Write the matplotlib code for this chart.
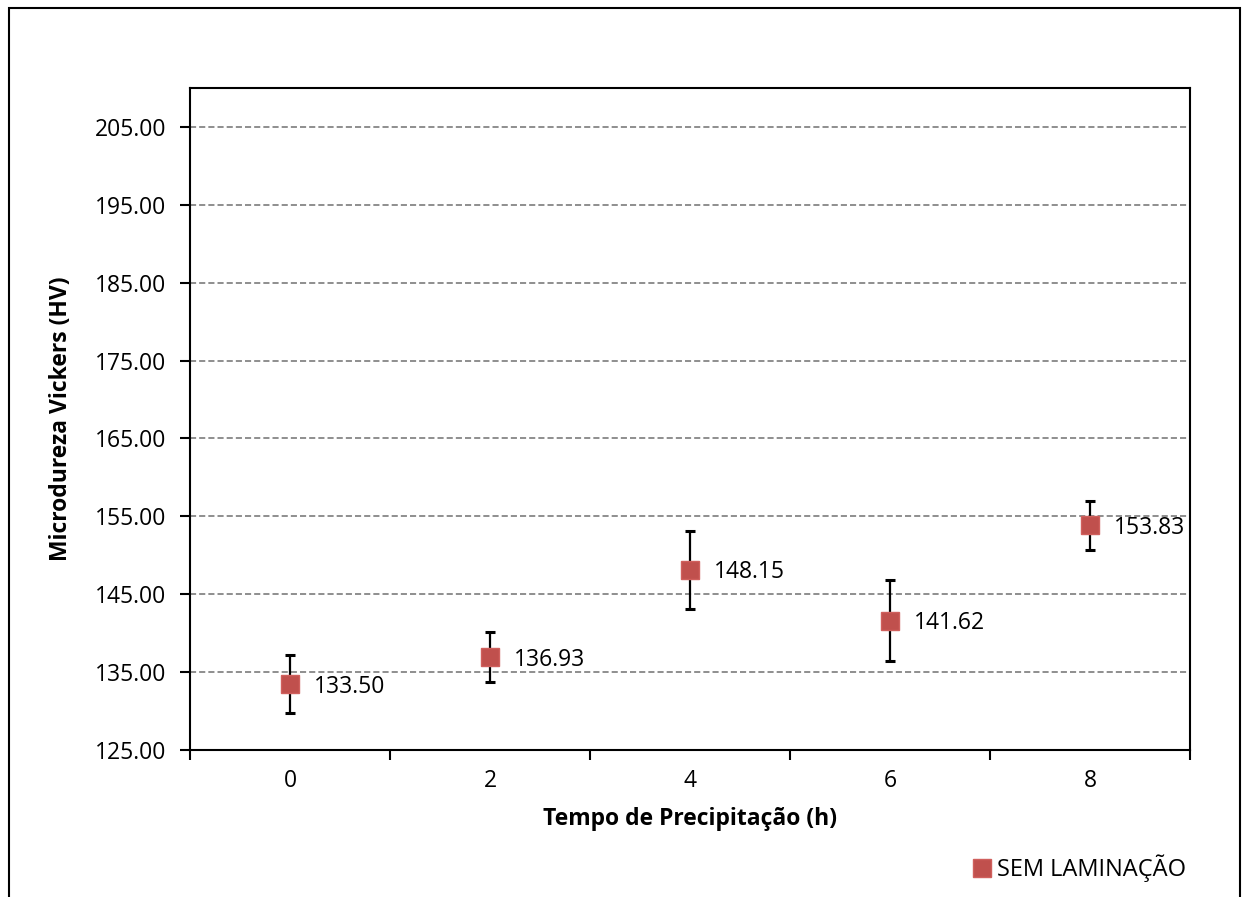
import matplotlib.pyplot as plt
from matplotlib.patches import Rectangle
from matplotlib.lines import Line2D

plt.rcParams['font.family'] = ['Open Sans', 'DejaVu Sans']

tempos = ['0', '2', '4', '6', '8']
dureza = [133.50, 136.93, 148.15, 141.62, 153.83]
erro = [3.7, 3.2, 5.0, 5.2, 3.1]
yticks = [125, 135, 145, 155, 165, 175, 185, 195, 205]

fig = plt.figure(figsize=(12.47, 8.97), dpi=100)
ax = fig.add_axes([0.1524, 0.1639, 0.8019, 0.738])

# moldura externa
fig.patches.append(Rectangle((9 / 1247, -0.05), 1231 / 1247, 1 - 8 / 897 + 0.05,
                             transform=fig.transFigure, fill=False,
                             edgecolor='black', linewidth=1.5))

x = list(range(len(tempos)))
ax.errorbar(x, dureza, yerr=erro, fmt='none', ecolor='black',
            elinewidth=1.6, capsize=3.5, capthick=2.2, zorder=3)
ax.plot(x, dureza, linestyle='none', marker='s', markersize=13,
        color='#C0504D', markeredgecolor='#D0605D', zorder=4)

for xi, v in zip(x, dureza):
    ax.annotate(f'{v:.2f}', (xi, v), xytext=(17, -2), textcoords='offset points',
                va='center', ha='left', fontsize=16.5)

ax.set_xlim(-0.5, 4.5)
ax.set_ylim(125, 210)
ax.set_yticks(yticks)
ax.set_yticklabels([f'{t:.2f}' for t in yticks], fontsize=16.5)
ax.set_xticks(x)
ax.set_xticklabels(tempos, fontsize=16.5)
ax.set_xticks([i - 0.5 for i in range(len(tempos) + 1)], minor=True)
ax.tick_params(axis='x', which='major', length=0, pad=14)
ax.tick_params(axis='x', which='minor', length=7, width=1.5, direction='out')
ax.tick_params(axis='y', length=7, width=1.5, direction='out', pad=10)

for t in yticks[1:]:
    ax.axhline(t, color='#707070', linestyle=(0, (4, 2)), linewidth=1.1, zorder=1)

for s in ax.spines.values():
    s.set_linewidth(1.5)

ax.set_xlabel('Tempo de Precipitação (h)', fontsize=16.5, fontweight='bold', labelpad=10)
ax.set_ylabel('Microdureza Vickers (HV)', fontsize=16.5, fontweight='bold', labelpad=16)

handle = Line2D([], [], linestyle='none', marker='s', markersize=13,
                color='#C0504D', markeredgecolor='#D0605D')
fig.legend([handle], ['SEM LAMINAÇÃO'], loc='center', bbox_to_anchor=(1077 / 1247, 1 - 868 / 897),
           frameon=False, fontsize=17, handletextpad=0.0, handlelength=1.2, borderpad=0)

fig.savefig('out.png', dpi=100)
